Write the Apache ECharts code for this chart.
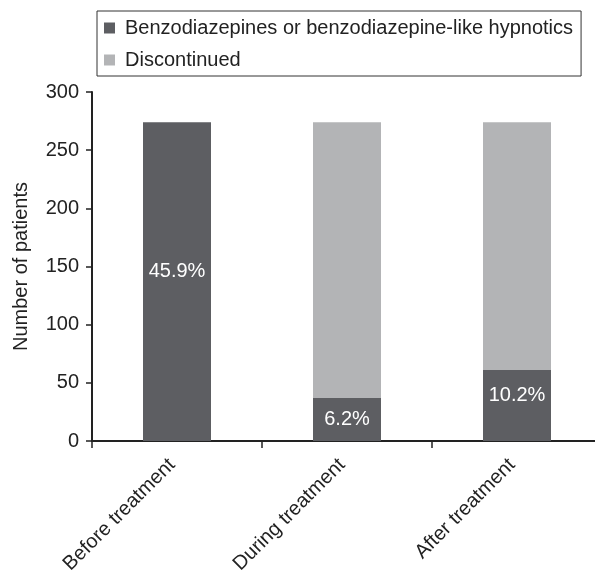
<!DOCTYPE html>
<html>
<head>
<meta charset="utf-8">
<script src="https://cdn.jsdelivr.net/npm/echarts@6/dist/echarts.min.js"></script>
<style>
  html, body { margin: 0; padding: 0; background: #fff; }
  #chart { width: 595px; height: 570px; }
</style>
</head>
<body>
<div id="chart"></div>
<script>
// Patients on benzodiazepines / discontinued at each phase
const categories = ['Before treatment', 'During treatment', 'After treatment'];
const onHypnotics = [274, 37, 61];
const discontinued = [0, 237, 213];
const percentLabels = ['45.9%', '6.2%', '10.2%'];
const yTicks = [0, 50, 100, 150, 200, 250, 300];

const FONT = 'Liberation Sans, Arial, Helvetica, sans-serif';
const DARK = '#5d5e62';
const LIGHT = '#b3b4b6';
const INK = '#222';

// vertical nudge of each percentage label inside its bar
const labelShift = [-10, 0, -10];

const chart = echarts.init(document.getElementById('chart'), null, { renderer: 'canvas' });

chart.setOption({
  animation: false,
  textStyle: { fontFamily: FONT },
  legend: {
    orient: 'vertical',
    left: 97,
    top: 11,
    padding: [7, 8, 6, 7],
    itemGap: 12,
    itemWidth: 11,
    itemHeight: 11,
    borderColor: '#333',
    borderWidth: 1,
    borderRadius: 0,
    icon: 'rect',
    textStyle: { fontFamily: FONT, fontSize: 20, color: INK, padding: [0, 0, 0, 5] },
    data: ['Benzodiazepines or benzodiazepine-like hypnotics', 'Discontinued']
  },
  grid: { left: 92, width: 510, top: 92, bottom: 129, containLabel: false, outerBoundsMode: 'none' },
  xAxis: {
    type: 'category',
    data: categories,
    axisLine: { lineStyle: { color: INK, width: 2 } },
    axisTick: { show: true, alignWithLabel: false, length: 7, lineStyle: { color: INK, width: 1.5 } },
    axisLabel: { rotate: 45, fontSize: 20, color: INK, margin: 16, padding: [0, 7, 0, 0], fontFamily: FONT, interval: 0 }
  },
  yAxis: {
    type: 'value',
    min: yTicks[0],
    max: yTicks[yTicks.length - 1],
    interval: yTicks[1] - yTicks[0],
    name: 'Number of patients',
    nameLocation: 'middle',
    nameGap: 61,
    nameTextStyle: { fontSize: 20, color: INK, fontFamily: FONT },
    axisLine: { show: true, lineStyle: { color: INK, width: 2 } },
    axisTick: { show: true, length: 6, lineStyle: { color: INK, width: 1.5 } },
    axisLabel: { fontSize: 20, color: INK, margin: 13, fontFamily: FONT },
    splitLine: { show: false }
  },
  series: [
    {
      name: 'Benzodiazepines or benzodiazepine-like hypnotics',
      type: 'bar',
      stack: 'total',
      barWidth: '40%',
      itemStyle: { color: DARK },
      data: onHypnotics.map((v, i) => ({
        value: v,
        label: { offset: [0, labelShift[i]] }
      })),
      label: {
        show: true,
        position: 'inside',
        color: '#fff',
        fontSize: 20,
        fontFamily: FONT,
        formatter: p => percentLabels[p.dataIndex]
      }
    },
    {
      name: 'Discontinued',
      type: 'bar',
      stack: 'total',
      barWidth: '40%',
      itemStyle: { color: LIGHT },
      data: discontinued
    }
  ]
});
</script>
</body>
</html>
